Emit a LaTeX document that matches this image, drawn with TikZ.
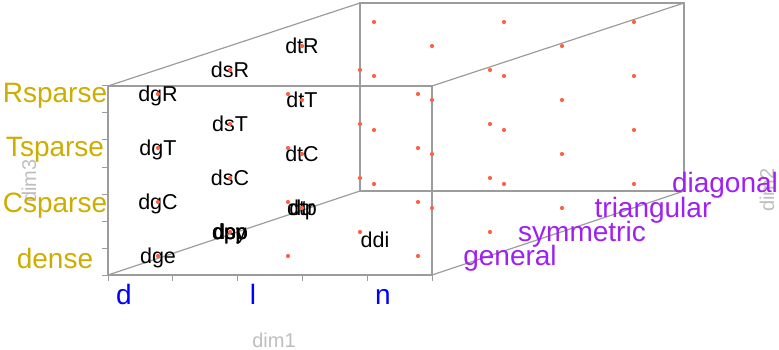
\documentclass[tikz,border=0pt]{standalone}
\usepackage{fontspec}
\setmainfont{Liberation Sans}
\definecolor{boxgray}{HTML}{9C9C9C}
\definecolor{ptcol}{HTML}{FF6347}
\definecolor{zlab}{HTML}{CDAD00}
\definecolor{ylab}{HTML}{A020F0}
\definecolor{xlab}{HTML}{0000FF}
\definecolor{axtitle}{HTML}{BEBEBE}

\begin{document}
\begin{tikzpicture}[x=1pt,y=-1pt,
  edge/.style={draw=boxgray, line width=1.2pt},
  tickmark/.style={draw=boxgray, line width=1pt},
  pt/.style={circle, fill=ptcol, inner sep=0pt, minimum size=4.2pt},
  cls/.style={anchor=base, inner sep=0pt, font=\fontsize{21.5}{21.5}\selectfont},
  zlabel/.style={anchor=base, inner sep=0pt, text=zlab, font=\fontsize{28}{28}\selectfont},
  ylabel/.style={anchor=base, inner sep=0pt, text=ylab, font=\fontsize{28}{28}\selectfont},
  xlabel/.style={anchor=base, inner sep=0pt, text=xlab, font=\fontsize{28}{28}\selectfont},
  axname/.style={inner sep=0pt, text=axtitle, font=\fontsize{20}{20}\selectfont}
]
\useasboundingbox (0,0) rectangle (779,350);

% box corners: front face and back face
\coordinate (f1) at (108,86);
\coordinate (f2) at (432,86);
\coordinate (f3) at (432,275);
\coordinate (f4) at (108,275);
\coordinate (b1) at (360,3);
\coordinate (b2) at (684,3);
\coordinate (b3) at (684,191);
\coordinate (b4) at (360,191);

% box edges
\draw[edge] (f1) -- (f2) -- (f3) -- (f4) -- cycle;
\draw[edge] (b1) -- (b2) -- (b3) -- (b4) -- cycle;
\draw[edge] (f1) -- (b1);
\draw[edge] (f2) -- (b2);
\draw[edge] (f3) -- (b3);
\draw[edge] (f4) -- (b4);

% tick marks on the vertical and horizontal axes
\foreach \k in {0,...,7}
  \draw[tickmark] (102,{86+27*\k}) -- (108,{86+27*\k});
\foreach \k in {0,...,5}
  \draw[tickmark] ({108+64.8*\k},275) -- ({108+64.8*\k},281);

% axis titles
\node[axname, anchor=base] (t1) at (274,347) {dim1};
\node[axname, rotate=90] (t3) at (29,181) {dim3};
\node[axname, rotate=90] (t2) at (767,190) {dim2};

% storage levels
\node[zlabel] (zR) at (55,103) {Rsparse};
\node[zlabel] (zT) at (55,157) {Tsparse};
\node[zlabel] (zC) at (55,212) {Csparse};
\node[zlabel] (zd) at (55,268) {dense};

% data types
\node[xlabel] (xd) at (124,304) {d};
\node[xlabel] (xl) at (253,304) {l};
\node[xlabel] (xn) at (383,304) {n};

% structure
\node[ylabel] (yg) at (510,265) {general};
\node[ylabel] (ys) at (582,241) {symmetric};
\node[ylabel] (yt) at (653,217) {triangular};
\node[ylabel] (yd) at (725,193) {diagonal};

% class names
\node[cls] (dgR) at (158,101.8) {dgR};
\node[cls] (dsR) at (230,77.8) {dsR};
\node[cls] (dtR) at (302,53.8) {dtR};
\node[cls] (dgT) at (158,155.8) {dgT};
\node[cls] (dsT) at (230,131.8) {dsT};
\node[cls] (dtT) at (302,107.8) {dtT};
\node[cls] (dgC) at (158,209.8) {dgC};
\node[cls] (dsC) at (230,185.8) {dsC};
\node[cls] (dtC) at (302,161.8) {dtC};
\node[cls] (dge) at (158,263.8) {dge};
\node[cls] (dsy) at (230,239.8) {dsy};
\node[cls] (dpo) at (230,239.8) {dpo};
\node[cls] (dpp) at (230,239.8) {dpp};
\node[cls] (dsp) at (230,239.8) {dsp};
\node[cls] (dtr) at (302,215.8) {dtr};
\node[cls] (dtp) at (302,215.8) {dtp};
\node[cls] (ddi) at (375,247.5) {ddi};

% grid of points: type x structure x storage
\foreach \i in {0,1,2}
  \foreach \j in {0,1,2,3}
    \foreach \k in {0,1,2,3}
      \node[pt] (p\i\j\k) at ({158+130*\i+72*\j},{256-24*\j-54*\k}) {};
\end{tikzpicture}
\end{document}
